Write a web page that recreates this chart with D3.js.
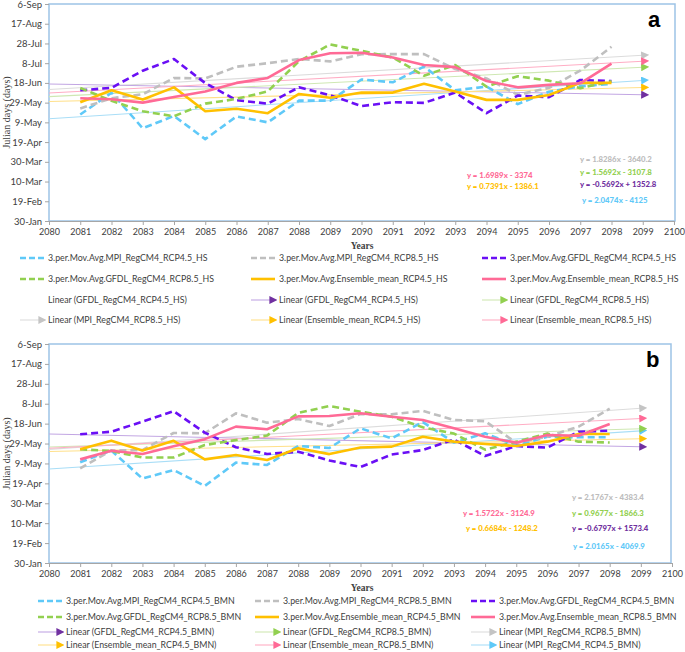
<!DOCTYPE html>
<html><head><meta charset="utf-8">
<script src="https://cdn.jsdelivr.net/npm/d3@7/dist/d3.min.js"></script>
<style>body{margin:0;background:#fff}svg{display:block}</style>
</head><body><svg id="c" width="685" height="652"></svg>
<script>
// ---------- DATA ----------
const years = [2081,2082,2083,2084,2085,2086,2087,2088,2089,2090,2091,2092,2093,2094,2095,2096,2097,2098];
const xTicks = [2080,2081,2082,2083,2084,2085,2086,2087,2088,2089,2090,2091,2092,2093,2094,2095,2096,2097,2098,2099,2100];
const yTickDays = [30,50,70,90,110,130,150,170,190,210,230,250];
const yTickLabels = ["30-Jan","19-Feb","10-Mar","30-Mar","19-Apr","9-May","29-May","18-Jun","8-Jul","28-Jul","17-Aug","6-Sep"];
const trendYears = [2080, 2099];

// Panel a (HS) 3-period moving averages
const mpi45_HS  = [138,160,124,136.5,113,136,130,152,152,173.5,170.6,186.5,162.5,166.2,148.5,161,166.5,169];
const mpi85_HS  = [144,154.5,158.5,175,174.5,186.4,190,194.3,191.8,199,199.2,199.2,184,174.5,158,165,182.4,206.6];
const gfdl45_HS = [162.5,165,182.4,194.2,169.8,152.5,149,165.5,157.5,146.5,150.4,149.8,160.2,139.3,157.2,155.5,173,171.8];
const gfdl85_HS = [164.9,151.8,141.2,136.2,149,153.8,161.4,192,209,202.5,195.8,177.3,188.2,166.2,176.8,172.3,164.7,171.6];
const ens45_HS  = [150.4,162.5,153.1,165.5,141.3,143.8,139.3,158.8,155,160.2,160.2,169.1,161.2,152.8,152.8,157.7,170,170];
const ens85_HS  = [154.5,153.5,150,155.8,161.3,170,175,193.2,200,200.5,195.8,188.1,186,172,165.5,168,169.6,189.5];

// Panel b (BMN) 3-period moving averages
const mpi45_BMN  = [131.3,143,114.8,123.4,107.4,130.8,128.5,147.6,145.5,165.3,155.2,171.6,151,160.3,148,156.9,156.3,156.3];
const mpi85_BMN  = [125.1,143,143.5,160.6,160.3,180.4,171,174.6,167.6,179.6,179.4,182.8,173.7,172.5,150.9,156.9,167,185];
const gfdl45_BMN = [159.3,161.9,172,182.5,161,146.3,139.5,141.8,133,126.4,139,143.5,154,137.5,147.5,145.9,161.9,162.9];
const gfdl85_BMN = [144.2,142.5,136,136,148.5,153.5,158,180.7,187.7,182,177,166.3,160,143.8,151.9,160,151.9,151];
const ens45_BMN  = [144.2,152.9,143,152.7,134.1,138.5,133.5,145.2,139.4,146,146.9,156.9,151.9,149.6,147.5,151.9,159.6,159.6];
const ens85_BMN  = [134.1,142.8,139.5,147.2,154.4,167,164.4,177.3,177.7,180.4,177,173.7,165.3,156.9,150.9,158.6,157.9,169.6];

// Linear trend coefficients (slope, intercept), order: mpi45, mpi85, gfdl45, gfdl85, ens45, ens85
const trendSlope_HS      = [2.0474, 1.8286, -0.5692, 1.5692, 0.7391, 1.6989];
const trendIntercept_HS  = [-4125, -3640.2, 1352.8, -3107.8, -1386.1, -3374];
const trendSlope_BMN     = [2.0165, 2.1767, -0.6797, 0.9677, 0.6684, 1.5722];
const trendIntercept_BMN = [-4069.9, -4383.4, 1573.4, -1866.3, -1248.2, -3124.9];

const seriesKeys = ["MPI_RegCM4_RCP4.5","MPI_RegCM4_RCP8.5","GFDL_RegCM4_RCP4.5","GFDL_RegCM4_RCP8.5","Ensemble_mean_RCP4.5","Ensemble_mean_RCP8.5"];

// ---------- STYLE ----------
const mainColor  = ["#5fc9f8","#bfbfbf","#6a0ff5","#92d050","#ffc000","#ff6a96"];
const dashed     = [true,true,true,true,false,false];
const trendColor = ["#a9def7","#dcdcdc","#c2a6e3","#cfe8b3","#ffe08a","#ffadc4"];
const arrowColor = ["#5fc9f8","#c4c4c4","#7030a0","#92d050","#ffc000","#ff6a96"];
const eqColor    = ["#5fc9f8","#bdbdbd","#7030a0","#92d050","#ffc000","#ff6a96"];
const FONT = "Lato, 'Open Sans', sans-serif";

const svg = d3.select("#c");
const defs = svg.append("defs");
arrowColor.forEach((c,i)=>{
  defs.append("marker").attr("id","arr"+i).attr("viewBox","0 0 10 10")
    .attr("refX",2).attr("refY",5).attr("markerWidth",8).attr("markerHeight",8)
    .attr("markerUnits","userSpaceOnUse").attr("orient","auto")
    .append("path").attr("d","M0,0 L10,5 L0,10 Z").attr("fill",c);
});

function fmtEq(s, b){
  const sb = b < 0 ? " - " + Math.abs(b) : " + " + b;
  return "y = " + s + "x" + sb;
}

function drawPanel(cfg){
  const g = svg.append("g");
  const x = d3.scaleLinear().domain([2080,2100]).range([cfg.x0,cfg.x1]);
  const y = d3.scaleLinear().domain([30,250]).range([cfg.yb,cfg.yt]);

  // frame (plot area border)
  g.append("rect").attr("x",cfg.x0).attr("y",cfg.yt).attr("width",cfg.fr-cfg.x0).attr("height",cfg.yb-cfg.yt)
    .attr("fill","none").attr("stroke","#9dc3e6").attr("stroke-width",1.5);

  // y axis
  const ya = g.append("g").attr("transform",`translate(${cfg.x0},0)`)
    .call(d3.axisLeft(y).tickValues(yTickDays).tickFormat((d,i)=>yTickLabels[i]).tickSize(4).tickPadding(3));
  ya.select(".domain").remove();
  ya.selectAll("line").attr("stroke","#a6a6a6");
  ya.selectAll("text").attr("font-family",FONT).attr("font-size","9.5px").attr("fill","#404040");

  // x axis
  const xa = g.append("g").attr("transform",`translate(0,${cfg.yb})`)
    .call(d3.axisBottom(x).tickValues(xTicks).tickFormat(d3.format("d")).tickSize(4).tickPadding(4));
  xa.select(".domain").attr("stroke","#a6a6a6").attr("stroke-width",1);
  xa.selectAll("line").attr("stroke","#a6a6a6");
  xa.selectAll("text").attr("font-family",FONT).attr("font-size","9px").attr("fill","#404040");

  // trend lines
  cfg.slope.forEach((s,i)=>{
    const pts = trendYears.map(t=>[x(t), y(s*t + cfg.icpt[i])]);
    g.append("line").attr("x1",pts[0][0]).attr("y1",pts[0][1]).attr("x2",pts[1][0]).attr("y2",pts[1][1])
      .attr("stroke",trendColor[i]).attr("stroke-width",1.1).attr("marker-end","url(#arr"+i+")");
  });

  // moving-average lines
  const line = d3.line().x((d,j)=>x(years[j])).y(d=>y(d));
  cfg.series.forEach((arr,i)=>{
    g.append("path").datum(arr).attr("d",line).attr("fill","none")
      .attr("stroke",mainColor[i]).attr("stroke-width",2.6)
      .attr("stroke-dasharray",dashed[i]?"7,4":null).attr("stroke-linejoin","round");
  });

  // equations
  cfg.eqPos.forEach((p,i)=>{
    g.append("text").attr("x",p[0]).attr("y",p[1]).text(fmtEq(cfg.slope[i],cfg.icpt[i]))
      .attr("font-family",FONT).attr("font-weight","900").attr("font-size","7.8px").attr("fill",eqColor[i]);
  });

  // panel letter
  g.append("text").attr("x",cfg.letter[0]).attr("y",cfg.letter[1]).text(cfg.name)
    .attr("font-family","'Liberation Sans', Arial, sans-serif").attr("font-weight","bold").attr("font-size","22px").attr("fill","#000");

  // axis titles
  g.append("text").attr("transform",`translate(10,${(cfg.yt+cfg.yb)/2}) rotate(-90)`).attr("text-anchor","middle")
    .text("Julian days (days)").attr("font-family","'Liberation Serif', serif").attr("font-size","10px").attr("fill","#404040");
  g.append("text").attr("x",362).attr("y",cfg.yb+28).attr("text-anchor","middle").text("Years")
    .attr("font-family","'Liberation Serif', serif").attr("font-weight","bold").attr("font-size","9.5px").attr("fill","#404040");

  // legend
  cfg.legend.forEach(it=>{
    const [cx, cy, type, idx, label] = it;
    if(type==="m"){
      g.append("line").attr("x1",cx).attr("x2",cx+24).attr("y1",cy).attr("y2",cy)
        .attr("stroke",mainColor[idx]).attr("stroke-width",2.6).attr("stroke-dasharray",dashed[idx]?"6,3":null);
    } else if(type==="t"){
      g.append("line").attr("x1",cx).attr("x2",cx+20).attr("y1",cy).attr("y2",cy)
        .attr("stroke",trendColor[idx]).attr("stroke-width",1.1).attr("marker-end","url(#arr"+idx+")");
    }
    g.append("text").attr("x",cx+28).attr("y",cy+3).text(label)
      .attr("font-family",FONT).attr("font-size","8.8px").attr("fill","#404040");
  });
}

const colA=[20,251,482], colB=[38,255,471];
const rowsA=[258,279,300,320], rowsB=[601,617,632,645];

drawPanel({
  name:"a", x0:49, x1:674, fr:675, yt:4, yb:221,
  series:[mpi45_HS,mpi85_HS,gfdl45_HS,gfdl85_HS,ens45_HS,ens85_HS],
  slope:trendSlope_HS, icpt:trendIntercept_HS,
  eqPos:[[582,203],[580,162],[580,187],[580,175],[467,189],[467,178]],
  letter:[648,27],
  legend:[
    [colA[0],rowsA[0],"m",0,"3.per.Mov.Avg."+seriesKeys[0]+"_HS"],
    [colA[1],rowsA[0],"m",1,"3.per.Mov.Avg."+seriesKeys[1]+"_HS"],
    [colA[2],rowsA[0],"m",2,"3.per.Mov.Avg."+seriesKeys[2]+"_HS"],
    [colA[0],rowsA[1],"m",3,"3.per.Mov.Avg."+seriesKeys[3]+"_HS"],
    [colA[1],rowsA[1],"m",4,"3.per.Mov.Avg."+seriesKeys[4]+"_HS"],
    [colA[2],rowsA[1],"m",5,"3.per.Mov.Avg."+seriesKeys[5]+"_HS"],
    [colA[0],rowsA[2],"n",0,"Linear ("+seriesKeys[2]+"_HS)"],
    [colA[1],rowsA[2],"t",2,"Linear ("+seriesKeys[2]+"_HS)"],
    [colA[2],rowsA[2],"t",3,"Linear ("+seriesKeys[3]+"_HS)"],
    [colA[0],rowsA[3],"t",1,"Linear ("+seriesKeys[1]+"_HS)"],
    [colA[1],rowsA[3],"t",4,"Linear ("+seriesKeys[4]+"_HS)"],
    [colA[2],rowsA[3],"t",5,"Linear ("+seriesKeys[5]+"_HS)"]
  ]
});

drawPanel({
  name:"b", x0:49, x1:672, fr:671, yt:344, yb:563,
  series:[mpi45_BMN,mpi85_BMN,gfdl45_BMN,gfdl85_BMN,ens45_BMN,ens85_BMN],
  slope:trendSlope_BMN, icpt:trendIntercept_BMN,
  eqPos:[[573,549],[572,500],[572,531],[572,516],[466,531],[463,516]],
  letter:[646,367],
  legend:[
    [colB[0],rowsB[0],"m",0,"3.per.Mov.Avg."+seriesKeys[0]+"_BMN"],
    [colB[1],rowsB[0],"m",1,"3.per.Mov.Avg."+seriesKeys[1]+"_BMN"],
    [colB[2],rowsB[0],"m",2,"3.per.Mov.Avg."+seriesKeys[2]+"_BMN"],
    [colB[0],rowsB[1],"m",3,"3.per.Mov.Avg."+seriesKeys[3]+"_BMN"],
    [colB[1],rowsB[1],"m",4,"3.per.Mov.Avg."+seriesKeys[4]+"_BMN"],
    [colB[2],rowsB[1],"m",5,"3.per.Mov.Avg."+seriesKeys[5]+"_BMN"],
    [colB[0],rowsB[2],"t",2,"Linear ("+seriesKeys[2]+"_BMN)"],
    [colB[1],rowsB[2],"t",3,"Linear ("+seriesKeys[3]+"_BMN)"],
    [colB[2],rowsB[2],"t",1,"Linear ("+seriesKeys[1]+"_BMN)"],
    [colB[0],rowsB[3],"t",4,"Linear ("+seriesKeys[4]+"_BMN)"],
    [colB[1],rowsB[3],"t",5,"Linear ("+seriesKeys[5]+"_BMN)"],
    [colB[2],rowsB[3],"t",0,"Linear ("+seriesKeys[0]+"_BMN)"]
  ]
});
</script></body></html>
